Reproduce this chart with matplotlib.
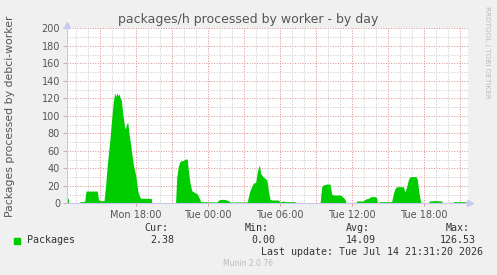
import matplotlib
matplotlib.use("Agg")
import matplotlib.pyplot as plt
import numpy as np

# time in hours since Mon 00:00, value in packages/h
hours = [12.25, 12.38, 12.43, 13.32, 13.36, 13.75, 13.86, 14.80, 14.90, 15.03,
         15.36, 15.50, 15.63, 15.83, 16.00, 16.13, 16.25, 16.36, 16.44, 16.53,
         16.61, 16.69, 16.80, 16.94, 17.07, 17.13, 17.23, 17.33, 17.44, 17.58,
         17.78, 18.00, 18.19, 18.36, 18.44, 19.30, 19.34, 21.32, 21.42, 21.55,
         21.69, 21.97, 22.19, 22.30, 22.38, 22.53, 22.67, 22.94, 23.13, 23.30,
         23.42, 24.75, 24.94, 25.17, 25.44, 25.72, 25.86, 27.30, 27.40, 27.53,
         27.80, 28.00, 28.13, 28.30, 28.42, 28.63, 28.92, 29.05, 29.19, 29.33,
         29.88, 30.03, 30.30, 30.44, 31.28, 31.33, 33.36, 33.50, 33.63, 33.92,
         34.19, 34.33, 34.47, 35.03, 35.17, 35.44, 35.53, 36.33, 36.42, 36.97,
         37.11, 37.38, 37.61, 37.94, 38.08, 38.15, 38.22, 38.30, 39.33, 39.47,
         39.61, 39.75, 40.30, 40.44, 40.58, 40.72, 40.86, 41.36, 41.47, 41.61,
         41.75, 41.82, 42.38, 42.47, 42.94, 43.50, 43.57, 44.42, 44.47, 45.50,
         45.57]
packages = [5.7, 5.7, 0, 0, 2, 2, 14, 14, 4, 3,
            3, 21, 44, 70, 97, 116, 126, 122, 126.5, 123,
            125, 121, 118, 100, 88, 85, 90, 93, 80, 67,
            46, 32, 13, 6.5, 5.7, 5.7, 0, 0, 30, 42,
            48, 49, 51, 50, 38, 23, 14.5, 12, 10.7, 5.7,
            1.9, 1.5, 4, 4.6, 4.3, 3, 1.5, 1.5, 8, 15,
            23, 24, 36, 44, 34, 30, 27, 15, 4.6, 3.8,
            3.8, 1.5, 2.7, 1.9, 1.9, 0, 0, 19, 21, 22,
            22, 10.7, 9.5, 9.5, 8.4, 4.6, 0, 0, 2.7, 2.7,
            4.6, 5.7, 7.6, 7.6, 6.5, 0, 0, 1.9, 1.9, 11,
            17, 19, 19, 13, 19, 27, 30.5, 30.5, 27, 11,
            1.5, 0, 0, 2.7, 3, 2.7, 0, 0, 1.9, 1.9,
            0]

tick_hours = [18, 24, 30, 36, 42]
tick_labels = ["Mon 18:00", "Tue 00:00", "Tue 06:00", "Tue 12:00", "Tue 18:00"]
x_start, x_end = 12.275, 45.69

title = "packages/h processed by worker - by day"
ylabel = "Packages processed by debci-worker"
series_name = "Packages"
stats_names = ["Cur:", "Min:", "Avg:", "Max:"]
stats_values = ["2.38", "0.00", "14.09", "126.53"]
last_update = "Last update: Tue Jul 14 21:31:20 2026"

W, H = 497, 275
fig = plt.figure(figsize=(W / 100, H / 100), dpi=100, facecolor="#F0F0F0")
ax = fig.add_axes([67 / W, (H - 203.3) / H, (468 - 67) / W, 175 / H])
ax.set_facecolor("white")

green = "#00CC00"
ax.fill_between(hours, 0, packages, color=green, linewidth=0, zorder=3)

ax.set_xlim(x_start, x_end)
ax.set_ylim(0, 200)

major_c = (0.87, 0.55, 0.55)
minor_c = (0.78, 0.78, 0.78)
ls = (0, (1, 1.6))
for v in np.arange(10, 201, 10):
    c = major_c if v % 20 == 0 else minor_c
    ax.axhline(v, color=c, lw=0.7, ls=ls, zorder=1)
for h in np.arange(13, 46, 1):
    c = major_c if h % 3 == 0 else minor_c
    ax.axvline(h, color=c, lw=0.7, ls=ls, zorder=1)

for s in ["top", "right"]:
    ax.spines[s].set_visible(False)
axc = "#C8C8F0"
ax.spines["left"].set_color(axc)
ax.spines["bottom"].set_color(axc)
ax.spines["left"].set_linewidth(0.8)
ax.spines["bottom"].set_linewidth(0.8)
ax.spines["left"].set_zorder(4)
ax.spines["bottom"].set_zorder(4)

txt = "#555555"
ax.set_yticks(np.arange(0, 201, 20))
ax.set_yticklabels([str(v) for v in range(0, 201, 20)], fontsize=7, color=txt)
ax.tick_params(axis="y", length=3, width=0.6, color="#AAAAAA", pad=2)
ax.set_xticks(tick_hours)
ax.set_xticklabels(tick_labels, fontsize=7, color=txt)
ax.tick_params(axis="x", length=2, width=0.6, color=major_c, pad=3)

# axis arrows
ax.plot([x_start], [203.5], marker="^", ms=4, color=axc, clip_on=False, zorder=5)
ax.plot([x_end + 0.2], [0], marker=">", ms=4, color=axc, clip_on=False, zorder=5)

fig.text(248 / W, 1 - 20 / H, title, ha="center", va="center", fontsize=9, color=txt)
fig.text(10 / W, 1 - 116 / H, ylabel, ha="center", va="center", rotation=90,
         fontsize=7.8, color=txt)
fig.text(487 / W, 1 - 6 / H, "RRDTOOL / TOBI OETIKER", ha="center", va="top",
         rotation=270, fontsize=5.2, color="#BBBBBB")

mono = "DejaVu Sans Mono"
fs = 7.2
fig.patches.append(plt.Rectangle((14 / W, 1 - 243.5 / H), 6 / W, 6 / H,
                                 transform=fig.transFigure, color=green))
fig.text(27 / W, 1 - 240 / H, series_name, ha="left", va="center",
         family=mono, fontsize=fs, color="#333333")
name_right = [168, 269, 370, 470]
val_right = [174, 275, 376, 476]
for n, v, xr, xv in zip(stats_names, stats_values, name_right, val_right):
    fig.text(xr / W, 1 - 228 / H, n, ha="right", va="center", family=mono,
             fontsize=fs, color="#333333")
    fig.text(xv / W, 1 - 240 / H, v, ha="right", va="center", family=mono,
             fontsize=fs, color="#333333")
fig.text(483 / W, 1 - 252 / H, last_update, ha="right", va="center",
         family=mono, fontsize=fs, color="#333333")
fig.text(248 / W, 1 - 264 / H, "Munin 2.0.76", ha="center", va="center",
         fontsize=5.5, color="#BBBBBB")

fig.savefig("out.png", dpi=100, facecolor=fig.get_facecolor())
